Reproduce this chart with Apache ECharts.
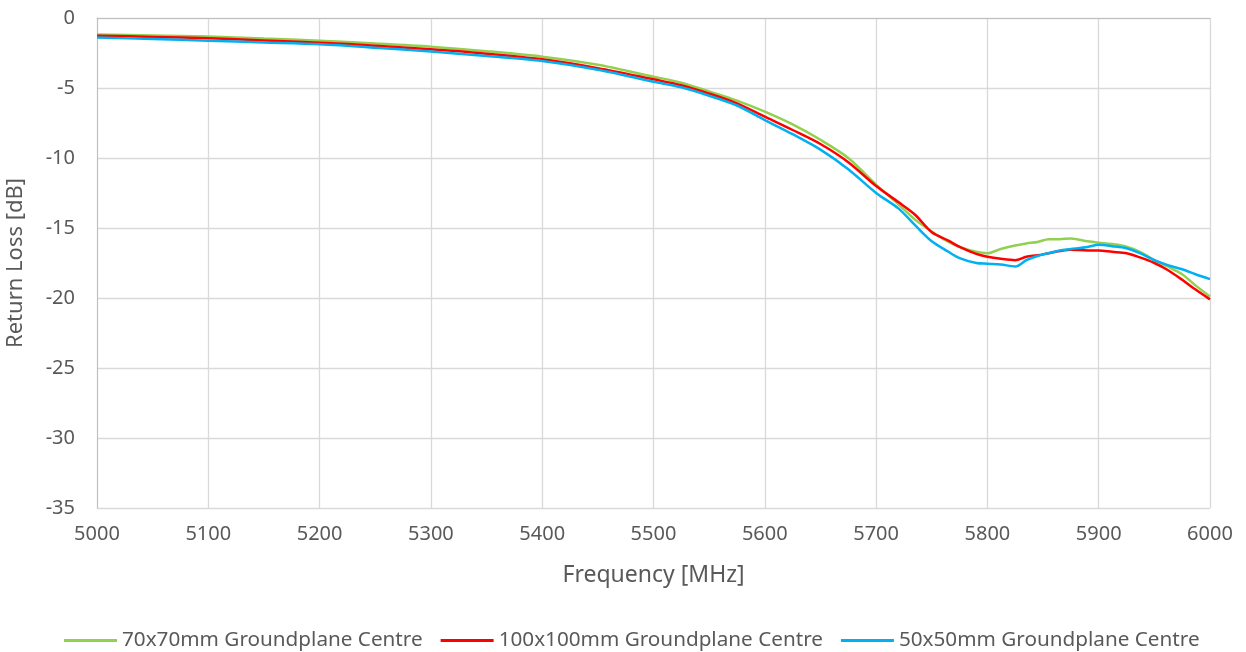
<!DOCTYPE html>
<html><head><meta charset="utf-8">
<script src="https://cdn.jsdelivr.net/npm/echarts@6/dist/echarts.min.js"></script>
<style>html,body{margin:0;padding:0;background:#fff}#c{width:1246px;height:652px}</style>
</head><body><div id="c"></div>
<script>
const freqs = [5000,5050,5100,5150,5200,5250,5300,5350,5400,5450,5500,5525,5550,5575,5600,5625,5650,5675,5700,5720,5735,5750,5765,5775,5790,5800,5812,5825,5835,5845,5855,5865,5875,5890,5900,5912,5925,5937,5950,5962,5975,5987,6000];
const green70 = [-1.17,-1.25,-1.33,-1.47,-1.62,-1.82,-2.05,-2.37,-2.76,-3.34,-4.19,-4.62,-5.25,-5.9,-6.69,-7.6,-8.7,-10.0,-11.9,-13.3,-14.4,-15.25,-16.0,-16.35,-16.7,-16.8,-16.5,-16.25,-16.1,-16.0,-15.8,-15.8,-15.75,-15.95,-16.05,-16.15,-16.33,-16.7,-17.3,-17.75,-18.3,-19.1,-19.9];
const red100 = [-1.26,-1.35,-1.45,-1.6,-1.76,-1.98,-2.24,-2.55,-2.95,-3.58,-4.38,-4.8,-5.4,-6.1,-7.05,-8.0,-9.0,-10.3,-12.0,-13.15,-14.05,-15.3,-15.9,-16.35,-16.85,-17.05,-17.2,-17.3,-17.05,-16.95,-16.8,-16.65,-16.55,-16.6,-16.6,-16.7,-16.8,-17.1,-17.5,-18.0,-18.7,-19.4,-20.1];
const blue50 = [-1.4,-1.5,-1.62,-1.75,-1.88,-2.12,-2.4,-2.72,-3.07,-3.7,-4.55,-4.95,-5.55,-6.25,-7.29,-8.3,-9.4,-10.8,-12.5,-13.6,-14.8,-15.95,-16.7,-17.15,-17.5,-17.55,-17.6,-17.75,-17.3,-17.0,-16.8,-16.6,-16.5,-16.35,-16.2,-16.3,-16.45,-16.8,-17.3,-17.65,-17.95,-18.3,-18.65];
const seriesNames = ['70x70mm Groundplane Centre','100x100mm Groundplane Centre','50x50mm Groundplane Centre'];
const colors = ['#92d050','#ff0000','#00b0f0'];

const pairs = arr => freqs.map((f,i)=>[f,arr[i]]);
const font = 'Noto Sans';
const chart = echarts.init(document.getElementById('c'));
chart.setOption({
  animation:false,
  textStyle:{fontFamily:font},
  grid:{left:97,right:36,top:18,bottom:144,outerBoundsMode:'none',containLabel:false},
  legend:{top:625,left:59,itemWidth:53,itemHeight:3,itemGap:18,icon:'rect',
    textStyle:{fontFamily:font,fontSize:20.7,color:'#595959'},
    data:seriesNames},
  xAxis:{type:'value',min:5000,max:6000,interval:100,
    name:'Frequency [MHz]',nameLocation:'middle',nameGap:56,
    nameTextStyle:{fontFamily:font,fontSize:23,color:'#595959'},
    axisLine:{show:true,lineStyle:{color:'#bfbfbf',width:1}},
    axisTick:{show:false},
    axisLabel:{color:'#595959',fontSize:20,margin:16,fontFamily:font,formatter:v=>String(v)},
    splitLine:{show:true,lineStyle:{color:'#d9d9d9',width:1.3}}},
  yAxis:{type:'value',min:-35,max:0,interval:5,
    name:'Return Loss [dB]',nameLocation:'middle',nameGap:70,
    nameTextStyle:{fontFamily:font,fontSize:22,color:'#595959'},
    axisLine:{show:true,lineStyle:{color:'#bfbfbf',width:1}},
    axisTick:{show:false},
    axisLabel:{color:'#595959',fontSize:20,margin:22,fontFamily:font},
    splitLine:{show:true,lineStyle:{color:'#d9d9d9',width:1.3}}},
  series:[
    {name:seriesNames[0],type:'line',data:pairs(green70),showSymbol:false,smooth:0.3,lineStyle:{color:colors[0],width:2.5},itemStyle:{color:colors[0]},z:2},
    {name:seriesNames[1],type:'line',data:pairs(red100),showSymbol:false,smooth:0.3,lineStyle:{color:colors[1],width:2.5},itemStyle:{color:colors[1]},z:3},
    {name:seriesNames[2],type:'line',data:pairs(blue50),showSymbol:false,smooth:0.3,lineStyle:{color:colors[2],width:2.5},itemStyle:{color:colors[2]},z:4}
  ]
});
</script></body></html>
